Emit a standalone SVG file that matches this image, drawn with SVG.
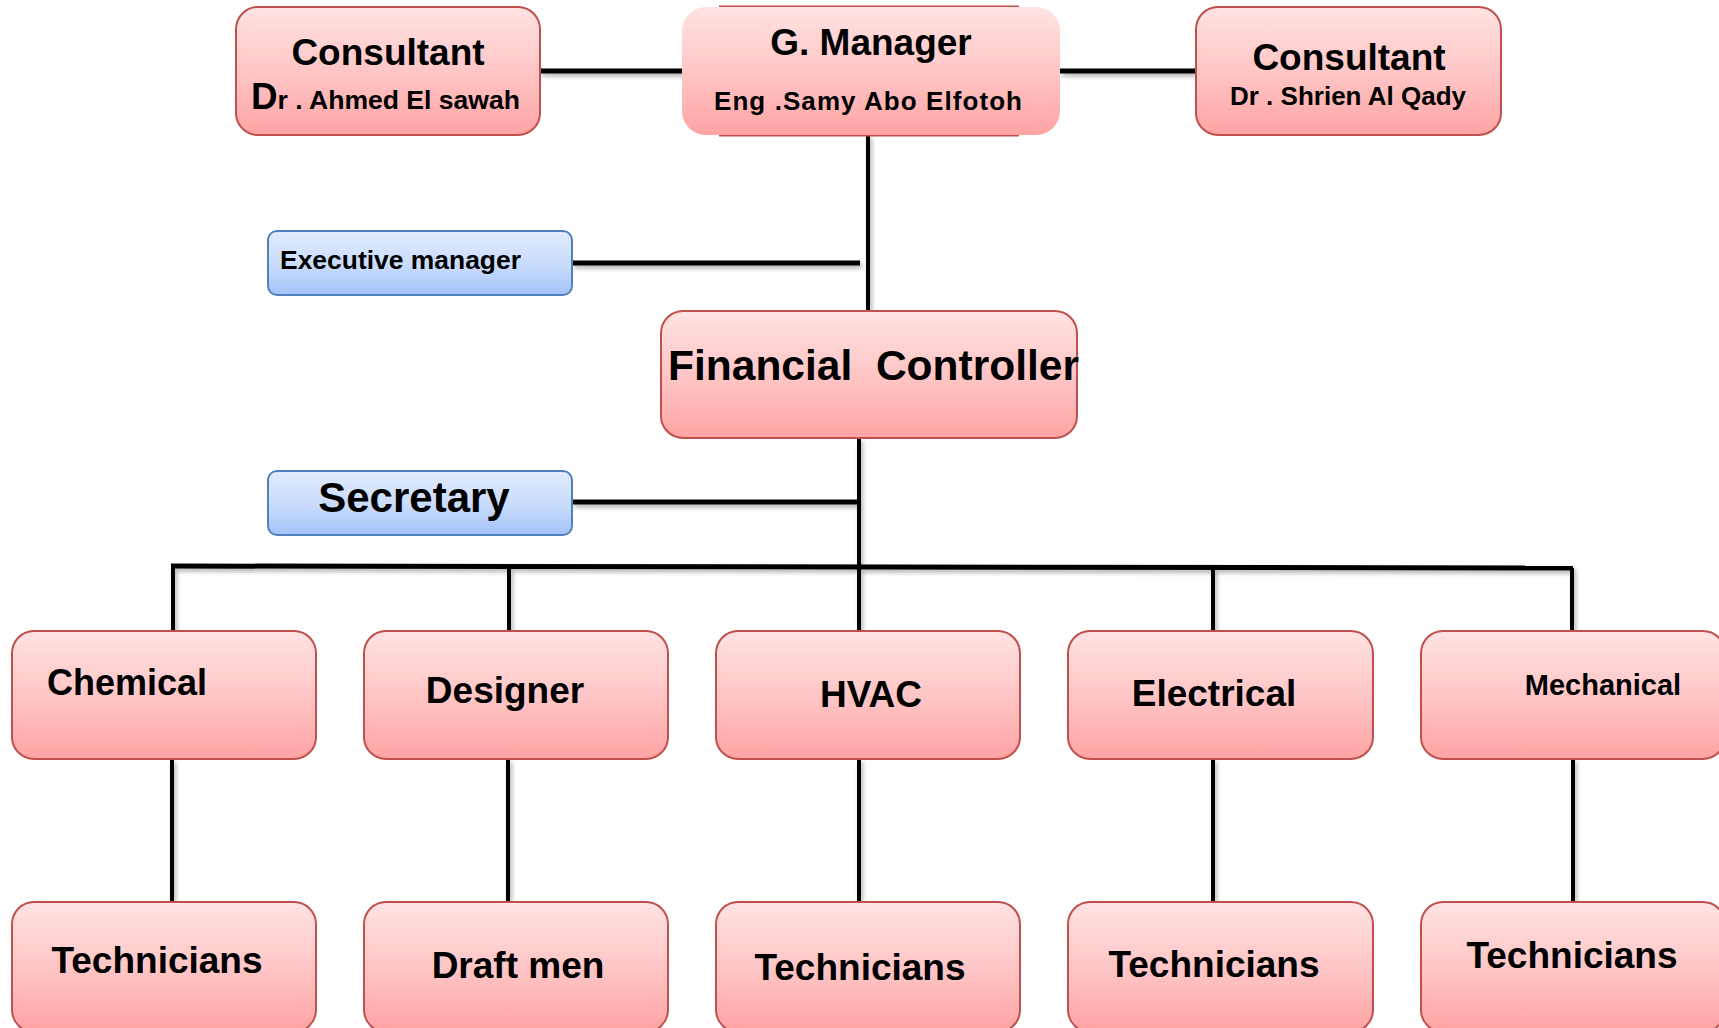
<svg xmlns="http://www.w3.org/2000/svg" width="1719" height="1028" viewBox="0 0 1719 1028">
  <defs>
    <linearGradient id="gRed" x1="0" y1="0" x2="0" y2="1">
      <stop offset="0" stop-color="#ffe3e3"/>
      <stop offset="0.55" stop-color="#ffc3c3"/>
      <stop offset="1" stop-color="#ffa3a3"/>
    </linearGradient>
    <linearGradient id="gBlue" x1="0" y1="0" x2="0" y2="1">
      <stop offset="0" stop-color="#e3ecfe"/>
      <stop offset="0.55" stop-color="#c8dbfc"/>
      <stop offset="1" stop-color="#a3c2f9"/>
    </linearGradient>
    <filter id="sh" x="-10%" y="-50%" width="120%" height="300%">
      <feDropShadow dx="2" dy="3" stdDeviation="2" flood-color="#000" flood-opacity="0.3"/>
    </filter>
  </defs>
  <style>
    .red { fill: url(#gRed); stroke: #c0504d; stroke-width: 2; }
    .blue { fill: url(#gBlue); stroke: #4f81bd; stroke-width: 2; }
    .ln { stroke: #000; fill: none; stroke-linecap: butt; }
    .t { font-family: "Liberation Sans", Arial, sans-serif; font-weight: bold; fill: #000; }
  </style>
  <rect width="1719" height="1028" fill="#fff"/>

  <g id="connectors" filter="url(#sh)">
    <line class="ln" x1="540" y1="71" x2="683" y2="71" stroke-width="5"/>
    <line class="ln" x1="1060" y1="71" x2="1196" y2="71" stroke-width="5"/>
    <line class="ln" x1="868" y1="135" x2="868" y2="311" stroke-width="4"/>
    <line class="ln" x1="572" y1="263" x2="860" y2="263" stroke-width="5"/>
    <line class="ln" x1="859" y1="438" x2="859" y2="631" stroke-width="4"/>
    <line class="ln" x1="572" y1="502" x2="859" y2="502" stroke-width="5"/>
    <line class="ln" x1="171" y1="566" x2="1573" y2="568" stroke-width="5"/>
    <line class="ln" x1="173" y1="566" x2="173" y2="631" stroke-width="4"/>
    <line class="ln" x1="509" y1="567" x2="509" y2="631" stroke-width="4"/>
    <line class="ln" x1="1213" y1="568" x2="1213" y2="631" stroke-width="4"/>
    <line class="ln" x1="1572" y1="568" x2="1572" y2="631" stroke-width="4"/>
    <line class="ln" x1="172" y1="759" x2="172" y2="902" stroke-width="4"/>
    <line class="ln" x1="508" y1="759" x2="508" y2="902" stroke-width="4"/>
    <line class="ln" x1="859" y1="759" x2="859" y2="902" stroke-width="4"/>
    <line class="ln" x1="1213" y1="759" x2="1213" y2="902" stroke-width="4"/>
    <line class="ln" x1="1573" y1="759" x2="1573" y2="902" stroke-width="4"/>
  </g>

  <g id="consultant-left">
    <rect class="red" x="236" y="7" width="304" height="128" rx="22"/>
    <text class="t" x="388" y="65" font-size="37" text-anchor="middle">Consultant</text>
    <text class="t" x="251" y="109" font-size="26" textLength="269" lengthAdjust="spacingAndGlyphs"><tspan font-size="36">D</tspan>r . Ahmed El sawah</text>
  </g>

  <g id="g-manager">
    <rect x="720" y="6.5" width="298" height="129" fill="none" stroke="#c0504d" stroke-width="2"/>
    <rect x="682" y="7" width="378" height="128" rx="24" fill="url(#gRed)"/>
    <text class="t" x="871" y="55" font-size="37" text-anchor="middle">G. Manager</text>
    <text class="t" x="714" y="110" font-size="26" textLength="308" lengthAdjust="spacing">Eng .Samy Abo Elfotoh</text>
  </g>

  <g id="consultant-right">
    <rect class="red" x="1196" y="7" width="305" height="128" rx="22"/>
    <text class="t" x="1349" y="70" font-size="37" text-anchor="middle">Consultant</text>
    <text class="t" x="1348" y="105" font-size="26" text-anchor="middle">Dr . Shrien Al Qady</text>
  </g>

  <g id="executive-manager">
    <rect class="blue" x="268" y="231" width="304" height="64" rx="9"/>
    <text class="t" x="280" y="269" font-size="26" textLength="241" lengthAdjust="spacingAndGlyphs">Executive manager</text>
  </g>

  <g id="financial-controller">
    <rect class="red" x="661" y="311" width="416" height="127" rx="22"/>
    <text class="t" x="668" y="380" font-size="42" xml:space="preserve" textLength="411" lengthAdjust="spacingAndGlyphs">Financial  Controller</text>
  </g>

  <g id="secretary">
    <rect class="blue" x="268" y="471" width="304" height="64" rx="9"/>
    <text class="t" x="414" y="512" font-size="42" text-anchor="middle">Secretary</text>
  </g>

  <g id="chemical">
    <rect class="red" x="12" y="631" width="304" height="128" rx="22"/>
    <text class="t" x="47" y="695" font-size="36">Chemical</text>
  </g>
  <g id="designer">
    <rect class="red" x="364" y="631" width="304" height="128" rx="22"/>
    <text class="t" x="505" y="703" font-size="37" text-anchor="middle">Designer</text>
  </g>
  <g id="hvac">
    <rect class="red" x="716" y="631" width="304" height="128" rx="22"/>
    <text class="t" x="871" y="707" font-size="37" text-anchor="middle">HVAC</text>
  </g>
  <g id="electrical">
    <rect class="red" x="1068" y="631" width="305" height="128" rx="22"/>
    <text class="t" x="1214" y="706" font-size="37" text-anchor="middle">Electrical</text>
  </g>
  <g id="mechanical">
    <rect class="red" x="1421" y="631" width="304" height="128" rx="22"/>
    <text class="t" x="1603" y="695" font-size="29" text-anchor="middle">Mechanical</text>
  </g>

  <g id="technicians-chemical">
    <rect class="red" x="12" y="902" width="304" height="130" rx="22"/>
    <text class="t" x="157" y="973" font-size="37" text-anchor="middle">Technicians</text>
  </g>
  <g id="draft-men">
    <rect class="red" x="364" y="902" width="304" height="130" rx="22"/>
    <text class="t" x="518" y="978" font-size="37" text-anchor="middle">Draft men</text>
  </g>
  <g id="technicians-hvac">
    <rect class="red" x="716" y="902" width="304" height="130" rx="22"/>
    <text class="t" x="860" y="980" font-size="37" text-anchor="middle">Technicians</text>
  </g>
  <g id="technicians-electrical">
    <rect class="red" x="1068" y="902" width="305" height="130" rx="22"/>
    <text class="t" x="1214" y="977" font-size="37" text-anchor="middle">Technicians</text>
  </g>
  <g id="technicians-mechanical">
    <rect class="red" x="1421" y="902" width="304" height="130" rx="22"/>
    <text class="t" x="1572" y="968" font-size="37" text-anchor="middle">Technicians</text>
  </g>
</svg>
